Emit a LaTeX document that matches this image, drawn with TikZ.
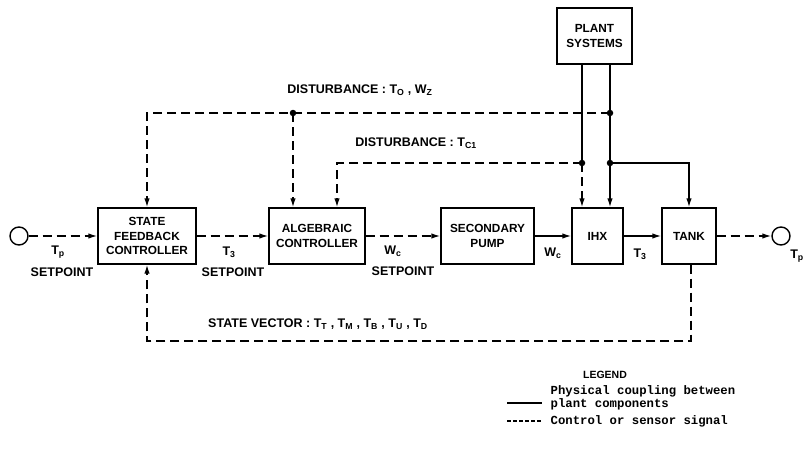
\documentclass[tikz,border=0pt]{standalone}
\usepackage{fontspec}
\setmainfont{Liberation Sans}
\newfontfamily\legendfont{Liberation Mono}
\usetikzlibrary{arrows.meta,positioning}

\begin{document}
\begin{tikzpicture}[
    x=1pt, y=-1pt,
    line width=1.4pt,
    blockbox/.style={draw, minimum width=#1, minimum height=56pt, align=center, inner sep=1pt, font=\fontsize{11.8}{14.5}\selectfont\bfseries},
    lbl/.style={inner sep=0pt, align=center, font=\fontsize{12.5}{14}\selectfont\bfseries},
    term/.style={draw, circle, minimum size=18pt, inner sep=0pt},
    ctrl/.style={dash pattern=on 9pt off 5pt},
    arrow/.style={-{Latex[length=9pt,width=5.5pt]}},
    joint/.style={circle, fill, inner sep=0pt, minimum size=6.5pt}
  ]
  \useasboundingbox (0,0) rectangle (807,459);

  % blocks
  \node[blockbox=98pt] (sfc) at (147,236) {STATE\\FEEDBACK\\CONTROLLER};
  \node[blockbox=96pt] (alg) at (317,236) {ALGEBRAIC\\CONTROLLER};
  \node[blockbox=93pt] (pump) at (487.5,236) {SECONDARY\\PUMP};
  \node[blockbox=51pt] (ihx) at (597.5,236) {IHX};
  \node[blockbox=54pt] (tank) at (689,236) {TANK};
  \node[blockbox=75pt] (plant) at (594.5,36) {PLANT\\SYSTEMS};
  \node[term] (in) at (19,236) {};
  \node[term] (out) at (781,236) {};

  % main signal path
  \draw[ctrl, arrow] (in) -- (sfc);
  \draw[ctrl, arrow] (sfc) -- (alg);
  \draw[ctrl, arrow] (alg) -- (pump);
  \draw[arrow] (pump) -- (ihx);
  \draw[arrow] (ihx) -- (tank);
  \draw[ctrl, arrow] (tank) -- (out);

  % disturbances
  \node[joint] (j1) at (293,113) {};
  \node[joint] (j2) at (610,113) {};
  \node[joint] (j3) at (582,163) {};
  \node[joint] (j4) at (610,163) {};
  \draw (plant.south -| j3) -- (j3.center);
  \draw (plant.south -| j2) -- (j2.center) -- (j4.center);
  \draw[ctrl, arrow] (j3.center) -- (j3 |- ihx.north);
  \draw[arrow] (j4.center) -- (j4 |- ihx.north);
  \draw[arrow] (j4.center) -| (tank.north);
  \draw[ctrl, arrow] (j2.center) -- (j1.center) -| (sfc.north);
  \draw[ctrl, arrow] (j1.center) -- (j1 |- alg.north);
  \draw[ctrl, arrow] (j3.center) -| ([xshift=20pt]alg.north);

  % state feedback
  \coordinate (fb) at (147,341);
  \draw[ctrl, arrow] ([xshift=2pt]tank.south) |- (fb) -- (sfc.south);

  % labels
  \node[lbl] (dist1) at (360,90) {DISTURBANCE : T\textsubscript{O} , W\textsubscript{Z}};
  \node[lbl] (dist2) at (416,143) {DISTURBANCE : T\textsubscript{C1}};
  \node[lbl] (svec) at (318,324) {STATE VECTOR : T\textsubscript{T} , T\textsubscript{M} , T\textsubscript{B} , T\textsubscript{U} , T\textsubscript{D}};
  \node[lbl] (tpin) at (58,252) {T\textsubscript{p}};
  \node[lbl] (spin) at (62,272) {SETPOINT};
  \node[lbl] (tthree) at (229,252) {T\textsubscript{3}};
  \node[lbl] (spthree) at (233,272) {SETPOINT};
  \node[lbl] (wcset) at (393,251) {W\textsubscript{c}};
  \node[lbl] (spwc) at (403,271) {SETPOINT};
  \node[lbl] (wc) at (553,253) {W\textsubscript{c}};
  \node[lbl] (tthreeb) at (640,254) {T\textsubscript{3}};
  \node[lbl] (tpout) at (797,256) {T\textsubscript{p}};

  % legend
  \node[lbl, font=\fontsize{10.5}{12}\selectfont\bfseries] (leg) at (605,375) {LEGEND};
  \coordinate (s1) at (507,403);
  \coordinate (s2) at (542,403);
  \coordinate (c1) at (507,421);
  \coordinate (c2) at (542,421);
  \draw[line width=1.2pt] (s1) -- (s2);
  \draw[line width=1.2pt, dash pattern=on 4pt off 2pt] (c1) -- (c2);
  \node[anchor=west, inner sep=0pt, align=left, font=\legendfont\fontsize{12.3}{12.5}\selectfont\bfseries] (legphys) at (550,398) {Physical coupling between\\plant components};
  \node[anchor=west, inner sep=0pt, font=\legendfont\fontsize{12.3}{12.5}\selectfont\bfseries] (legctrl) at (550,421) {Control or sensor signal};
\end{tikzpicture}
\end{document}
